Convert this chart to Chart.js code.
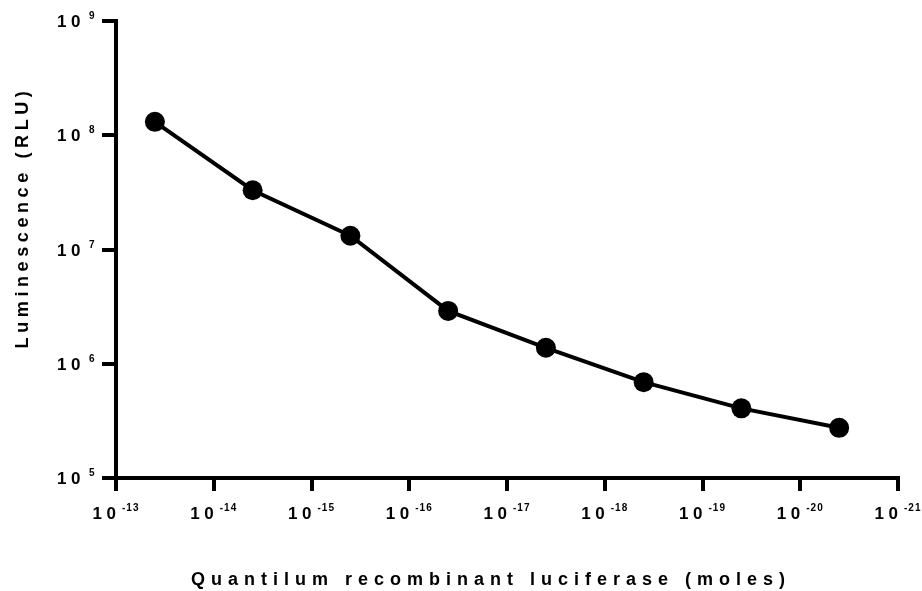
<!DOCTYPE html>
<html>
<head>
<meta charset="utf-8">
<script src="https://cdn.jsdelivr.net/npm/chart.js@4"></script>
<style>
  html, body { margin: 0; padding: 0; background: #fff; }
  #wrap { width: 922px; height: 591px; }
</style>
</head>
<body>
<div id="wrap"><canvas id="lumi-chart"></canvas></div>
<script>
// amounts of luciferase (moles)
var moles = [4e-14, 4e-15, 4e-16, 4e-17, 4e-18, 4e-19, 4e-20, 4e-21];
// luminescence (RLU)
var rlu = [1.31e8, 3.3e7, 1.32e7, 2.9e6, 1.38e6, 6.9e5, 4.07e5, 2.75e5];

// tick exponents (labels are 10^n)
var xExps = [-13, -14, -15, -16, -17, -18, -19, -20, -21];
var yExps = [5, 6, 7, 8, 9];

var xTitle = 'Quantilum recombinant luciferase (moles)';
var yTitle = 'Luminescence (RLU)';

var FONT = '"Liberation Sans", Arial, sans-serif';

// draws the 10^n labels and the axis titles (letter-spaced, GraphPad style)
var powLabels = {
	id: 'powLabels',
	afterDraw: function (chart) {
		var ctx = chart.ctx;
		var area = chart.chartArea;
		var xs = chart.scales.x;
		var ys = chart.scales.y;

		ctx.save();
		ctx.fillStyle = '#000';
		ctx.textBaseline = 'alphabetic';

		xExps.forEach(function (e) {
			var px = xs.getPixelForValue(Math.pow(10, e));
			ctx.font = 'bold 17px ' + FONT;
			ctx.letterSpacing = '4.5px';
			ctx.textAlign = 'right';
			ctx.fillText('10', px + 4.5, area.bottom + 41);
			ctx.font = 'bold 10px ' + FONT;
			ctx.letterSpacing = '1px';
			ctx.textAlign = 'left';
			ctx.fillText(String(e), px + 6, area.bottom + 33);
		});

		yExps.forEach(function (e) {
			var py = ys.getPixelForValue(Math.pow(10, e));
			ctx.font = 'bold 17px ' + FONT;
			ctx.letterSpacing = '4.5px';
			ctx.textAlign = 'right';
			ctx.fillText('10', area.left - 31, py + 6);
			ctx.font = 'bold 10px ' + FONT;
			ctx.letterSpacing = '1px';
			ctx.textAlign = 'left';
			ctx.fillText(String(e), area.left - 27, py - 2);
		});

		// x title
		ctx.font = 'bold 18px ' + FONT;
		ctx.letterSpacing = '6px';
		ctx.textAlign = 'center';
		ctx.fillText(xTitle, (area.left + area.right) / 2 - 16, area.bottom + 107);

		// y title
		ctx.letterSpacing = '4.6px';
		ctx.translate(28, (area.top + area.bottom) / 2 - 32);
		ctx.rotate(-Math.PI / 2);
		ctx.fillText(yTitle, 0, 0);

		ctx.restore();
	}
};

function axisStyle(tl) {
	return {
		grid: {
			display: true,
			drawOnChartArea: false,
			drawTicks: true,
			tickLength: tl,
			color: '#000',
			lineWidth: 4
		},
		border: { display: true, color: '#000', width: 4 },
		ticks: { display: false }
	};
}

var xOpts = axisStyle(13);
xOpts.type = 'logarithmic';
xOpts.reverse = true;
xOpts.min = 1e-21;
xOpts.max = 1e-13;
xOpts.afterBuildTicks = function (scale) {
	scale.ticks = xExps.map(function (e) { return { value: Math.pow(10, e) }; });
};
xOpts.afterFit = function (scale) { scale.height = 113; };

var yOpts = axisStyle(14);
yOpts.type = 'logarithmic';
yOpts.min = 1e5;
yOpts.max = 1e9;
yOpts.afterBuildTicks = function (scale) {
	scale.ticks = yExps.map(function (e) { return { value: Math.pow(10, e) }; });
};
yOpts.afterFit = function (scale) { scale.width = 116; };

new Chart('lumi-chart', {
	type: 'line',
	data: {
		datasets: [
			{
				data: moles.map(function (m, i) { return { x: m, y: rlu[i] }; }),
				borderColor: '#000',
				borderWidth: 4,
				backgroundColor: '#000',
				pointBackgroundColor: '#000',
				pointBorderWidth: 0,
				pointRadius: 10,
				tension: 0
			}
		]
	},
	options: {
		responsive: true,
		maintainAspectRatio: false,
		animation: false,
		layout: { padding: { top: 21, right: 24, left: 0, bottom: 0 } },
		plugins: {
			legend: { display: false },
			tooltip: { enabled: false }
		},
		scales: { x: xOpts, y: yOpts }
	},
	plugins: [powLabels]
});
</script>
</body>
</html>
